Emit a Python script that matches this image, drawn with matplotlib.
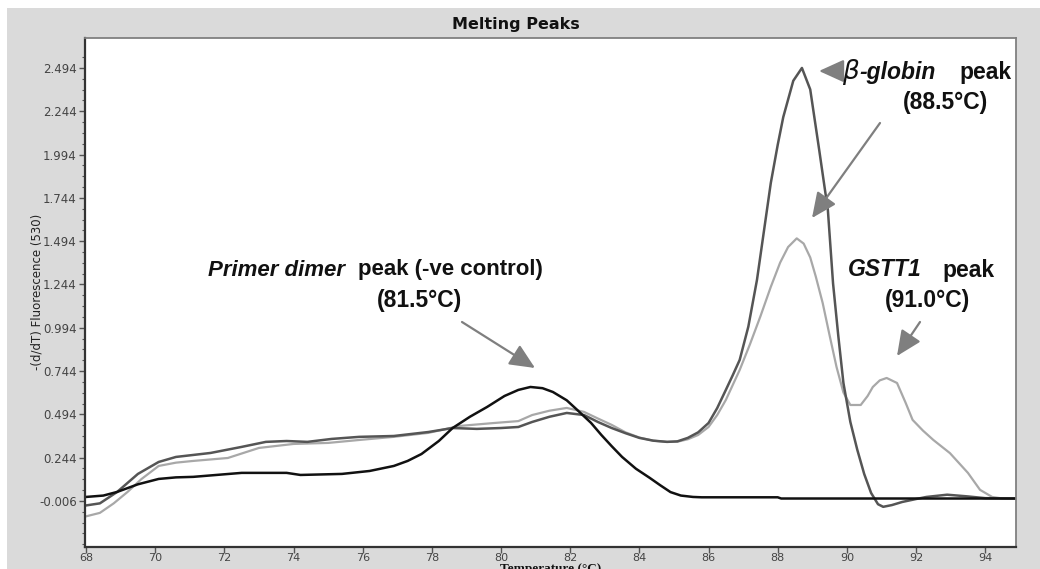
import numpy as np
import matplotlib.pyplot as plt
from matplotlib.patches import Rectangle

# melting curve derivative traces, -(d/dT) fluorescence vs temperature
temp_dimer = [68.0, 68.5, 68.9, 69.5, 70.1, 70.6, 71.1, 72.5, 73.8, 74.2, 75.4, 76.2,
              76.9, 77.3, 77.7, 78.2, 78.6, 79.1, 79.6, 80.1, 80.5, 80.85, 81.2, 81.5,
              81.9, 82.2, 82.6, 82.9, 83.2, 83.5, 83.9, 84.3, 84.6, 84.9, 85.2, 85.55,
              85.8, 88.0, 88.1, 94.9]
val_dimer = [0.017, 0.025, 0.046, 0.09, 0.121, 0.13, 0.133, 0.156, 0.156, 0.144, 0.15, 0.167,
             0.196, 0.225, 0.265, 0.34, 0.415, 0.48, 0.537, 0.6, 0.635, 0.652, 0.645, 0.623,
             0.575, 0.52, 0.445, 0.375, 0.31, 0.248, 0.18, 0.127, 0.085, 0.045, 0.025, 0.017,
             0.015, 0.015, 0.008, 0.008]

temp_globin = [68.0, 68.4, 68.9, 69.5, 70.1, 70.6, 71.6, 72.5, 73.2, 73.8, 74.4, 75.1,
               75.9, 76.9, 77.9, 78.6, 79.3, 80.0, 80.5, 80.9, 81.4, 81.9, 82.4, 82.8,
               83.2, 83.6, 84.0, 84.4, 84.8, 85.1, 85.4, 85.7, 86.0, 86.25, 86.5, 86.7,
               86.9, 87.15, 87.4, 87.6, 87.8, 88.0, 88.16, 88.45, 88.7, 88.94, 89.2, 89.45,
               89.6, 89.75, 89.9, 90.1, 90.3, 90.5, 90.7, 90.9, 91.05, 91.3, 91.6, 92.0,
               92.3, 92.9, 93.5, 94.0, 94.9]
val_globin = [-0.032, -0.02, 0.046, 0.15, 0.219, 0.248, 0.271, 0.306, 0.335, 0.34, 0.335, 0.352,
              0.364, 0.369, 0.392, 0.415, 0.41, 0.415, 0.421, 0.45, 0.48, 0.502, 0.49, 0.45,
              0.415, 0.385, 0.358, 0.342, 0.335, 0.338, 0.358, 0.39, 0.444, 0.53, 0.635, 0.72,
              0.808, 1.0, 1.27, 1.55, 1.83, 2.05, 2.21, 2.42, 2.494, 2.37, 2.02, 1.674,
              1.25, 0.95, 0.675, 0.45, 0.29, 0.15, 0.04, -0.025, -0.04, -0.03, -0.012, 0.005,
              0.017, 0.03, 0.02, 0.01, 0.008]

temp_gstt1 = [68.0, 68.4, 68.8, 69.2, 69.6, 70.1, 70.6, 71.1, 72.1, 73.0, 74.0, 75.0,
              75.9, 76.9, 77.9, 78.8, 79.8, 80.5, 80.9, 81.4, 81.9, 82.4, 82.8, 83.2,
              83.6, 84.0, 84.4, 84.8, 85.1, 85.4, 85.7, 86.0, 86.25, 86.5, 86.9, 87.2,
              87.5, 87.8, 88.07, 88.3, 88.55, 88.75, 88.94, 89.1, 89.3, 89.5, 89.7, 89.9,
              90.1, 90.4, 90.6, 90.75, 90.95, 91.15, 91.45, 91.7, 91.9, 92.2, 92.5, 92.98,
              93.5, 93.85, 94.2, 94.5, 94.9]
val_gstt1 = [-0.095, -0.075, -0.02, 0.046, 0.12, 0.196, 0.215, 0.225, 0.242, 0.3, 0.323, 0.329,
             0.346, 0.364, 0.387, 0.427, 0.444, 0.455, 0.49, 0.515, 0.531, 0.508, 0.47, 0.433,
             0.39, 0.36, 0.342, 0.335, 0.336, 0.35, 0.375, 0.421, 0.49, 0.577, 0.75, 0.9,
             1.06, 1.23, 1.37, 1.46, 1.51, 1.48, 1.40, 1.29, 1.137, 0.95, 0.768, 0.62,
             0.548, 0.548, 0.6, 0.652, 0.69, 0.704, 0.675, 0.56, 0.462, 0.4, 0.346, 0.27,
             0.156, 0.058, 0.017, 0.008, 0.008]

y_ticks = [-0.006, 0.244, 0.494, 0.744, 0.994, 1.244, 1.494, 1.744, 1.994, 2.244, 2.494]
x_ticks = [68, 70, 72, 74, 76, 78, 80, 82, 84, 86, 88, 90, 92, 94]

W, H = 1040, 569
fig = plt.figure(figsize=(W / 100, H / 100), dpi=100, facecolor='white')

# grey panel behind the plot
fig.patches.append(Rectangle((7 / W, 0), 1 - 7 / W, 1 - 8 / H, transform=fig.transFigure,
                             facecolor='#dadada', edgecolor='none', zorder=-10))

ax = fig.add_axes([85 / W, 1 - 547 / H, 931 / W, 509 / H])
ax.set_facecolor('white')

ax.plot(temp_gstt1, val_gstt1, color='#a8a8a8', lw=1.6)
ax.plot(temp_globin, val_globin, color='#555555', lw=1.8)
ax.plot(temp_dimer, val_dimer, color='#111111', lw=1.8)

ax.set_xlim(67.97, 94.89)
ax.set_ylim(-0.272, 2.667)
ax.set_xticks(x_ticks)
ax.set_xticklabels([str(t) for t in x_ticks])
ax.set_yticks(y_ticks)
ax.set_yticklabels([f'{t:.3f}' for t in y_ticks])
ax.set_yticks(np.arange(-0.006 - 0.0625 * 4, 2.6, 0.0625), minor=True)
ax.tick_params(axis='both', direction='out', length=4, width=1, color='#555555',
               labelsize=8.5, labelcolor='#444444', pad=2)
ax.tick_params(axis='x', pad=0.5, labelsize=8)
ax.tick_params(axis='y', which='minor', direction='out', length=2.5, width=0.8, color='#555555')

for side in ['left', 'bottom']:
    ax.spines[side].set_color('#333333')
    ax.spines[side].set_linewidth(1.6)
for side in ['top', 'right']:
    ax.spines[side].set_color('#808080')
    ax.spines[side].set_linewidth(1.3)


def put(x, y, s, **kw):
    # place text by pixel position (from top-left)
    fig.text(x / W, 1 - y / H, s, va='center', **kw)


def arrow(x0, y0, x1, y1):
    ax.annotate('', xy=(x1, H - y1), xytext=(x0, H - y0),
                xycoords='figure pixels', textcoords='figure pixels',
                arrowprops=dict(arrowstyle='-|>,head_length=1.1,head_width=0.5',
                                mutation_scale=14, color='#7f7f7f', lw=1.6,
                                shrinkA=0, shrinkB=0))


fig.text(516 / W, 1 - 25 / H, 'Melting Peaks', ha='center', va='center',
         fontsize=11.5, fontweight='heavy', family='DejaVu Sans', color='#111111')
fig.text(551 / W, 1 - 569 / H, 'Temperature (°C)', ha='center', va='center',
         fontsize=9.5, fontweight='bold', family='Liberation Serif', color='#111111')
fig.text(37 / W, 1 - 292 / H, '-(d/dT) Fluorescence (530)', ha='center', va='center',
         rotation=90, fontsize=8.5, family=['Liberation Sans Narrow', 'DejaVu Sans'],
         color='#222222')

lab = dict(fontsize=16.5, fontweight='bold', family='Liberation Sans', color='#111111')
put(208, 270, 'Primer dimer', style='italic', fontsize=16, fontweight='bold',
    family='Liberation Sans', color='#111111')
put(358, 270, 'peak (-ve control)', fontsize=16, fontweight='bold',
    family='Liberation Sans', color='#111111')
put(420, 300, '(81.5°C)', ha='center', **lab)

put(842, 72, r'$\beta$', fontsize=19, color='#111111')
put(859, 72, '-globin', style='italic', **lab)
put(959, 72, 'peak', **lab)
put(946, 102, '(88.5°C)', ha='center', **lab)

put(848, 270, 'GSTT1', style='italic', **lab)
put(942, 270, 'peak', **lab)
put(928, 300, '(91.0°C)', ha='center', **lab)

arrow(462, 322, 535, 368)
arrow(842, 71, 819, 71)
arrow(880, 123, 812, 218)
arrow(920, 322, 897, 356)

fig.savefig('out.png', dpi=100)
